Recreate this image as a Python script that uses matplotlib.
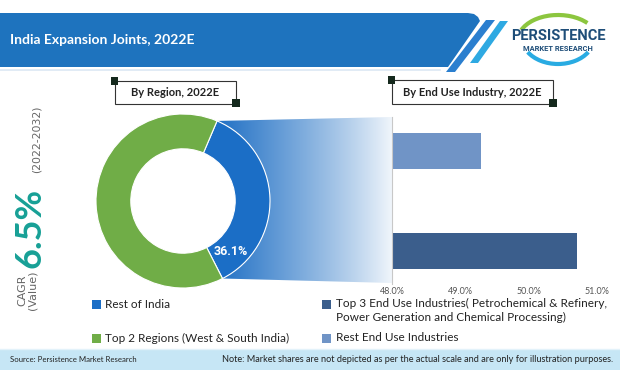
import matplotlib
matplotlib.use("Agg")
import matplotlib.pyplot as plt
import numpy as np
from matplotlib import font_manager
from matplotlib.patches import Polygon, Rectangle, Arc
from matplotlib.colors import to_rgb

# ---- data ----
title = "India Expansion Joints, 2022E"
region_title = "By Region, 2022E"
region_labels = ["Rest of India", "Top 2 Regions (West & South India)"]
region_share = [36.1, 63.9]
region_colors = ["#1b6ec6", "#70ad47"]

industry_title = "By End Use Industry, 2022E"
industry_labels = ["Top 3 End Use Industries( Petrochemical & Refinery,\nPower Generation and Chemical Processing)",
                   "Rest End Use Industries"]
industry_share = [50.7, 49.3]
industry_colors = ["#3b5e8c", "#7094c6"]
industry_ticks = [48.0, 49.0, 50.0, 51.0]

cagr_value = "6.5%"
cagr_period = "(2022-2032)"
source_note = "Source: Persistence Market Research"
scale_note = "Note: Market shares are not depicted as per the actual scale and are only for illustration purposes."

W, H = 620, 370
names = {f.name for f in font_manager.fontManager.ttflist}
BODY = "Lato" if "Lato" in names else "DejaVu Sans"
NARROW = "Roboto" if "Roboto" in names else "DejaVu Sans"


def box(left, top, right, bottom):
    # pixel box -> figure fraction
    return [left / W, 1 - bottom / H, (right - left) / W, (bottom - top) / H]


fig = plt.figure(figsize=(W / 100, H / 100), dpi=100)
bg = fig.add_axes([0, 0, 1, 1])
bg.axis("off")

# header banner
banner = [(0, 13), (468, 13), (474, 14), (478, 17), (480, 21), (448, 67), (0, 67)]
bg.add_patch(Polygon(banner, closed=True, fc="#1e73be", ec="none"))
bg.add_patch(Polygon([(486, 20), (495, 20), (455, 72), (446, 72)], fc="#2b7fcf", ec="none"))
bg.add_patch(Polygon([(500, 21), (508, 21), (478, 63), (470, 63)], fc="#2ea9e2", ec="none"))
bg.plot([0, 440], [69.5, 69.5], color="#dbe8f3", lw=1.2)
bg.text(10, 40, title, color="white", fontsize=10, fontweight="bold", family=BODY, va="center", ha="left")

# logo
bg.add_patch(Arc((558, 40), 80, 50, theta1=195, theta2=330, color="#8cc63f", lw=3))
bg.add_patch(Arc((558, 38), 72, 52, theta1=25, theta2=155, color="#29abe2", lw=3))
bg.text(558, 36, "PERSISTENCE", color="#1f4e79", fontsize=10.5, fontweight="bold", family=NARROW,
        ha="center", va="center")
bg.text(558, 49, "MARKET RESEARCH", color="#1f4e79", fontsize=5.4, fontweight="bold", family=NARROW,
        ha="center", va="center")

# CAGR
bg.text(22, 306, "CAGR", rotation=90, color="#666666", fontsize=8, family="DejaVu Sans", ha="center", va="bottom")
bg.text(33, 310, "(Value)", rotation=90, color="#666666", fontsize=8, family="DejaVu Sans", ha="center", va="bottom")
bg.text(30, 268, cagr_value, rotation=90, color="#17a096", fontsize=26, fontweight="bold", family=BODY,
        ha="center", va="bottom")
bg.text(37, 173, cagr_period, rotation=90, color="#666666", fontsize=7.8, family="DejaVu Sans", ha="center",
        va="bottom")

# title boxes
for (l, t, r, b), txt in [((115, 81, 236, 104), region_title), ((392, 80, 553, 104), industry_title)]:
    bg.add_patch(Rectangle((l, t), r - l, b - t, fc="white", ec="#333333", lw=0.8, zorder=3))
    bg.add_patch(Rectangle((l - 4, t - 4), 7, 8, fc="#15291d", ec="none", zorder=4))
    bg.add_patch(Rectangle((r - 4, b - 5), 8, 8, fc="#15291d", ec="none", zorder=4))
    bg.text((l + r) / 2, (t + b) / 2, txt, fontsize=8, fontweight="bold", family=BODY, color="#222222",
            ha="center", va="center", zorder=5)

# donut geometry (pixels)
cx, cy, rad = 183, 201, 87
start = -63
sweep = region_share[0] / 100 * 360
bar_left, bar_top, bar_right, bar_bottom = 392, 117, 604, 284

# funnel from the donut slice to the bar chart (opaque blend to white)
ang = np.radians(np.linspace(start + sweep, start, 40))
arc_pts = [(cx + rad * np.cos(a), cy - rad * np.sin(a)) for a in ang]
funnel = Polygon(arc_pts + [(bar_left, bar_bottom - 1), (bar_left, bar_top)], closed=True, fc="none", ec="none")
bg.add_patch(funnel)
n = 256
a = np.linspace(1.0, 0.04, n) ** 0.85
base = np.array(to_rgb("#1f6fc4"))
row = base[None, :] * a[:, None] + (1 - a[:, None])
grad = np.repeat(row[None, :, :], 2, axis=0)
im = bg.imshow(grad, extent=(215, bar_left, bar_bottom, bar_top), aspect="auto", interpolation="bilinear")
im.set_clip_path(funnel)

# legends
for i, (lab, col) in enumerate(zip(region_labels, region_colors)):
    y = [304, 338][i]
    bg.add_patch(Rectangle((92, y - 4.5), 9, 9, fc=col, ec="none"))
    bg.text(105, y, lab, fontsize=8.5, family=BODY, color="#222222", va="center")
for i, (lab, col) in enumerate(zip(industry_labels, industry_colors)):
    y = [304, 338][i]
    bg.add_patch(Rectangle((322, y - 4.5), 9, 9, fc=col, ec="none"))
    bg.text(336, y - 6, lab, fontsize=8.5, family=BODY, color="#222222", va="top", linespacing=1.3)

# footer
bg.add_patch(Rectangle((0, 349), W, 21, fc="#c6e6f5", ec="none"))
bg.plot([0, W], [348.5, 348.5], color="#e3f2fa", lw=1)
bg.text(10, 359.5, source_note, fontsize=5.6, family=BODY, color="#222222", va="center")
bg.text(613, 359.5, scale_note, fontsize=6.6, family=BODY, color="#222222", va="center", ha="right")

bg.set_xlim(0, W)
bg.set_ylim(H, 0)

# donut
ax_d = fig.add_axes(box(cx - rad, cy - rad, cx + rad, cy + rad))
ax_d.pie(region_share, colors=region_colors, startangle=start, counterclock=True, radius=1,
         wedgeprops=dict(width=0.4, edgecolor="white", linewidth=0.8))
ax_d.set_xlim(-1, 1)
ax_d.set_ylim(-1, 1)
lab_ang = np.radians(-47)
ax_d.text(0.8 * np.cos(lab_ang), 0.8 * np.sin(lab_ang), f"{region_share[0]:.1f}%", color="white",
          fontsize=9, fontweight="bold", family=NARROW, ha="center", va="center")

# bars
ax_b = fig.add_axes(box(bar_left, bar_top, bar_right, bar_bottom))
ax_b.patch.set_alpha(0)
ax_b.barh(range(len(industry_share)), industry_share, height=0.36, color=industry_colors, left=0)
ax_b.set_xlim(48.0, 51.1)
ax_b.set_ylim(-0.33, 1.34)
ax_b.set_xticks(industry_ticks)
ax_b.set_xticklabels([f"{t:.1f}%" for t in industry_ticks], fontsize=6.5, color="#555555", family=BODY)
ax_b.set_yticks([])
ax_b.tick_params(axis="x", length=0, pad=2)
for s in ["top", "right", "bottom"]:
    ax_b.spines[s].set_visible(False)
ax_b.spines["left"].set_color("#c8c8c8")

fig.savefig("out.png", dpi=100)
